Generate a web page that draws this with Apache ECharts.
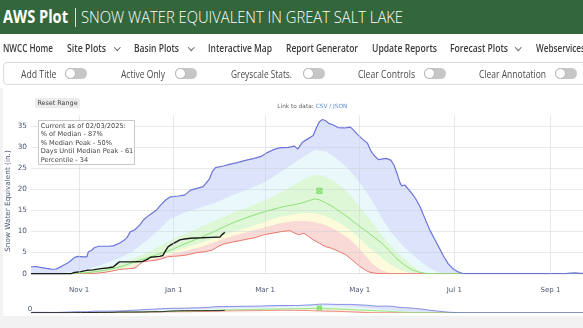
<!DOCTYPE html>
<html><head><meta charset="utf-8">
<script src="https://cdn.jsdelivr.net/npm/echarts@6/dist/echarts.min.js"></script>
<style>
html,body{margin:0;padding:0;width:583px;height:328px;overflow:hidden;background:#fff;font-family:"Open Sans",Lato,sans-serif;-webkit-font-smoothing:antialiased;}
#chart{position:absolute;left:0;top:0;width:583px;height:328px;}
.abs{position:absolute;white-space:nowrap;display:inline-block;}
</style></head><body>
<div id="chart"></div>
<div id="ui"></div>
<script>
// ---------- data (day index from Oct 1 = 0, SWE in inches) ----------
const tickDays = [31, 92, 151, 212, 273, 335];
const tickLabels = ['Nov 1', 'Jan 1', 'Mar 1', 'May 1', 'Jul 1', 'Sep 1'];
const yTicks = [0, 5, 10, 15, 20, 25, 30, 35];

const maxSWE = [[0,1.6],[3,1.7],[6,1.5],[9,1.3],[13,1.1],[16,1.05],[17,1.5],[20,1.8],[23,2.4],[25,2.9],[28,3.8],[30,4.1],[34,4.0],[36,4.0],[37,5.2],[39,5.5],[41,6.2],[44,6.5],[50,6.5],[53,6.6],[57,7.2],[60,7.9],[62,8.6],[64,9.9],[67,10.4],[70,11.5],[73,12.9],[76,13.8],[81,15.1],[84,16.4],[87,17.5],[90,18.2],[95,18.4],[99,18.6],[101,19.2],[103,19.8],[107,20.2],[111,20.6],[113,21.5],[115,22.4],[117,24.2],[119,25.1],[124,25.5],[128,25.9],[133,26.3],[139,26.9],[144,27.3],[148,27.7],[152,28.6],[156,29.3],[160,29.8],[166,29.9],[170,30.2],[172,29.5],[175,31.1],[178,31.8],[182,32.7],[184,34.5],[186,36.0],[188,36.5],[190,36.2],[192,35.6],[195,35.2],[198,34.6],[202,34.5],[206,34.7],[208,34.0],[211,32.8],[214,31.8],[217,30.9],[219,29.2],[221,28.1],[224,27.0],[227,27.2],[229,27.3],[232,26.9],[234,25.8],[236,23.8],[238,21.5],[239,20.8],[241,21.0],[242,20.8],[245,19.3],[248,17.8],[251,15.8],[254,13.1],[257,10.5],[260,8.4],[263,6.3],[266,4.2],[269,2.4],[272,1.2],[275,0.5],[278,0.1],[280,0],[345,0],[348,0.15],[351,0.2],[354,0.1],[356,0.1]];
const p90SWE = [[0,0],[20,0.1],[28,0.5],[35,1.0],[45,2.0],[55,3.4],[61,4.4],[66,5.4],[75,8.0],[82,10.2],[90,13.0],[100,14.6],[109,15.6],[120,17.0],[130,18.6],[140,20.0],[152,21.9],[165,25.0],[175,27.5],[183,29.3],[190,29.0],[197,27.3],[204,25.0],[210,22.5],[216,19.5],[222,16.0],[226,13.3],[232,10.0],[238,7.3],[243,5.5],[248,3.9],[253,2.4],[258,1.2],[262,0.4],[265,0],[356,0]];
const p70SWE = [[0,0],[25,0.1],[35,0.5],[45,1.2],[55,2.2],[66,3.6],[75,5.0],[82,6.4],[92,8.2],[100,9.5],[109,11.0],[120,12.8],[130,14.4],[140,15.8],[152,17.5],[165,20.0],[175,22.2],[183,23.5],[190,23.0],[197,21.5],[204,19.4],[210,16.8],[216,14.0],[222,11.3],[226,9.2],[232,6.6],[238,4.4],[243,2.7],[247,1.6],[251,0.5],[255,0],[356,0]];
const medianSWE = [[0,0],[25,0],[30,0.1],[35,0.2],[40,0.4],[45,0.7],[50,1.0],[55,1.4],[60,1.9],[66,2.7],[72,3.4],[77,4.0],[82,4.6],[88,5.3],[92,5.9],[100,7.2],[109,8.5],[117,9.8],[125,11.2],[132,12.3],[140,13.4],[148,14.4],[155,15.1],[162,15.8],[168,16.2],[172,16.5],[176,16.9],[180,17.4],[183,17.7],[186,17.5],[190,16.8],[195,15.8],[200,14.5],[205,13.2],[210,11.7],[215,10.4],[220,9.0],[226,7.3],[231,5.5],[236,3.5],[241,2.0],[246,0.9],[250,0.4],[254,0.1],[258,0],[356,0]];
const p30SWE = [[0,0],[35,0],[42,0.2],[50,0.6],[60,1.3],[70,2.6],[80,3.9],[90,5.0],[100,6.2],[110,7.4],[120,8.6],[130,9.8],[140,11.0],[150,12.2],[160,13.4],[170,14.1],[177,14.4],[183,14.3],[190,13.6],[197,12.4],[204,10.8],[210,9.0],[215,7.2],[220,5.6],[226,3.8],[231,2.4],[236,1.3],[242,0.4],[248,0],[356,0]];
const p10SWE = [[0,0],[40,0],[50,0.3],[60,0.9],[70,2.4],[80,3.6],[90,4.6],[100,5.4],[110,6.4],[120,7.7],[130,8.9],[140,9.9],[150,10.9],[160,11.9],[170,12.5],[177,12.5],[183,12.2],[190,11.5],[197,10.2],[204,8.6],[210,6.6],[215,4.6],[220,2.4],[226,0.8],[232,0.1],[236,0],[356,0]];
const minSWE = [[0,0],[38,0],[42,0.1],[47,0.3],[52,0.6],[57,1.0],[63,1.2],[67,1.3],[70,2.2],[72,2.8],[76,3.0],[81,3.2],[85,3.6],[88,4.0],[95,4.2],[100,4.4],[107,5.0],[112,5.2],[117,5.6],[120,6.3],[124,7.0],[130,7.5],[137,8.0],[144,8.5],[150,9.2],[156,9.6],[162,10.0],[167,10.2],[170,9.6],[173,9.2],[176,9.6],[179,8.8],[182,8.0],[186,7.2],[190,6.4],[194,6.0],[199,5.2],[203,4.5],[206,3.6],[209,2.7],[212,1.7],[215,1.0],[218,0.4],[222,0.1],[225,0],[356,0]];
const currentSWE = [[0,0],[26,0],[28,0.3],[32,0.5],[36,0.8],[40,0.9],[45,1.2],[50,1.4],[53,1.6],[55,2.2],[57,2.8],[65,2.8],[72,2.9],[75,3.4],[77,3.9],[83,4.1],[85,4.3],[87,5.6],[88.5,6.4],[91,7.0],[94,7.6],[96,8.0],[99,8.2],[103,8.4],[110,8.5],[116,8.6],[122,8.7],[123,9.2],[125,9.8]];
const medianPeak = [[186, 19.6]];

const statsLines = ['Current as of 02/03/2025:', '% of Median - 87%', '% Median Peak - 50%', 'Days Until Median Peak - 61', 'Percentile - 34'];

// ---------- chart ----------
const FONT = 'DejaVu Sans';
const TICK = '#4a5670';
const C = {
  blueFill:'#dde3fa', cyanFill:'#e9f9fb', greenFill:'#def7d7', yellowFill:'#fdfbdb', pinkFill:'#fadad6',
  maxLine:'#6b74d9', medLine:'#8ee078', minLine:'#e8776d', cur:'#1b1b1b', peak:'#72d955'
};
function areaS(data, color, i){
  return {type:'line', data, xAxisIndex:i, yAxisIndex:i, symbol:'none', showSymbol:false,
    lineStyle:{width:0, opacity:0}, areaStyle:{color, opacity:1}, z:2, silent:true, animation:false};
}
function lineS(data, color, w, i, extra){
  return Object.assign({type:'line', data, xAxisIndex:i, yAxisIndex:i, symbol:'none', showSymbol:false,
    lineStyle:{color, width:w}, z:4, silent:true, animation:false}, extra||{});
}
const series = [];
[0,1].forEach(i=>{
  const w = i===0 ? 1 : 0.8;
  series.push(areaS(maxSWE, C.blueFill, i));
  series.push(areaS(p90SWE, C.cyanFill, i));
  series.push(areaS(p70SWE, C.greenFill, i));
  series.push(areaS(p30SWE, C.yellowFill, i));
  series.push(areaS(p10SWE, C.pinkFill, i));
  series.push(areaS(minSWE, '#ffffff', i));
  const mark = i===0 ? {markLine:{silent:true, symbol:['none','none'], label:{show:false}, animation:false,
      lineStyle:{color:'rgba(205,210,220,0.5)', width:1, type:'solid'},
      data: tickDays.map(d=>({xAxis:d}))}} : {};
  series.push(lineS(minSWE, C.minLine, w, i, mark));
  series.push(lineS(medianSWE, C.medLine, w, i));
  series.push(lineS(maxSWE, C.maxLine, i===0?1.2:0.8, i));
  series.push(lineS(currentSWE, C.cur, i===0?1.4:0.9, i));
  series.push({type:'scatter', data:medianPeak, xAxisIndex:i, yAxisIndex:i, z:5, silent:true, animation:false,
    symbol:'path://M0,0 L10,10 M10,0 L0,10 M0,0 L10,0 L10,10 L0,10 Z', symbolSize: i===0?5:4,
    itemStyle:{color:'rgba(0,0,0,0)', borderColor:C.peak, borderWidth:1.2}});
});

const TXT = '#444';
const graphic = [
  {type:'text', x:8, y:201, rotation:Math.PI/2, silent:true,
   style:{text:'Snow Water Equivalent (in.)', fontFamily:FONT, fontSize:7.3, fill:TICK, align:'center', verticalAlign:'middle'}},
  {type:'text', x:30, y:309, silent:true,
   style:{text:'0', fontFamily:FONT, fontSize:7, fill:TICK, align:'center', verticalAlign:'middle'}},
  {type:'rect', shape:{x:35, y:98, width:45, height:10, r:2}, style:{fill:'#ececec'}, silent:true, z:10},
  {type:'text', x:57.5, y:103.2, silent:true, z:11,
   style:{text:'Reset Range', fontFamily:FONT, fontSize:6.4, fill:TXT, align:'center', verticalAlign:'middle'}},
  {type:'text', x:277.3, y:106, silent:true, z:11,
   style:{text:'Link to data: ', fontFamily:FONT, fontSize:5.8, fill:'#666', align:'left', verticalAlign:'middle'}},
  {type:'text', x:315.7, y:106, silent:true, z:11,
   style:{text:'CSV / JSON', fontFamily:FONT, fontSize:5.8, fill:'#5b8bd6', align:'left', verticalAlign:'middle'}},
  {type:'rect', shape:{x:38.5, y:120.5, width:96, height:44}, style:{fill:'#fff', stroke:'#c8c8c8', lineWidth:1}, silent:true, z:10}
];
statsLines.forEach((l,k)=>{
  graphic.push({type:'text', x:40.7, y:126 + k*8.5, silent:true, z:11,
    style:{text:l, fontFamily:FONT, fontSize:6.6, fill:TXT, align:'left', verticalAlign:'middle'}});
});

const chart = echarts.init(document.getElementById('chart'), null, {renderer:'canvas'});
chart.setOption({
  backgroundColor:'#ffffff',
  animation:false,
  grid:[
    {left:31, right:0, top:115.3, bottom:54.3, containLabel:false},
    {left:31, right:0, top:303.7, bottom:15.3, containLabel:false}
  ],
  xAxis:[
    {type:'value', gridIndex:0, min:0, max:356, axisLine:{show:false}, axisTick:{show:false}, splitLine:{show:false},
     axisLabel:{customValues:tickDays, formatter:v=>{const k=tickDays.indexOf(v);return k>=0?tickLabels[k]:'';},
       fontFamily:FONT, fontSize:7, color:TICK, margin:13}},
    {type:'value', gridIndex:1, min:0, max:356, show:false}
  ],
  yAxis:[
    {type:'value', gridIndex:0, min:0, max:37.5, interval:5, z:3,
     axisLine:{show:false}, axisTick:{show:false},
     splitLine:{show:true, showMaxLine:false, lineStyle:{color:'rgba(200,206,216,0.45)', width:1}},
     axisLabel:{showMaxLabel:false, fontFamily:FONT, fontSize:7.3, color:TICK, margin:4,
       formatter:v=> yTicks.indexOf(v)>=0 ? String(v) : ''}},
    {type:'value', gridIndex:1, min:0, max:37.5, show:false}
  ],
  graphic,
  series
});

// ---------- page chrome ----------
const ui = document.getElementById('ui');
function box(css){ const d=document.createElement('div'); d.style.cssText='position:absolute;'+css; ui.appendChild(d); return d; }
function txt(t, x, cy, w, css, lh){
  lh = lh||14;
  const s=document.createElement('span'); s.className='abs'; s.textContent=t;
  s.style.cssText += 'left:'+x+'px;top:'+(cy-lh/2)+'px;line-height:'+lh+'px;height:'+lh+'px;'+css;
  ui.appendChild(s);
  if(w){ const r=s.getBoundingClientRect().width; if(r>0){ s.style.transformOrigin='left center'; s.style.transform='scaleX('+(w/r)+')'; } }
  return s;
}
// left gutter and bottom strip
box('left:0;top:88px;width:3px;height:240px;background:#f3f3f3;');
box('left:0;top:316px;width:583px;height:12px;background:#f2f2f2;');
// header
box('left:0;top:0;width:583px;height:34px;background:#33673b;');
txt('AWS Plot', 3, 17, 65, 'color:#fff;font-weight:700;font-size:17px;font-family:"Open Sans",sans-serif;', 20);
box('left:75px;top:8px;width:1px;height:19px;background:#d8e4d9;');
txt('SNOW WATER EQUIVALENT IN GREAT SALT LAKE', 81, 17, 322, 'color:#fff;font-weight:300;font-size:16px;font-family:"Open Sans",sans-serif;', 20);
// nav
const nav = [['NWCC Home',3,50,0],['Site Plots',67,39,114],['Basin Plots',134,45,188],['Interactive Map',208,64,0],
  ['Report Generator',286,72,0],['Update Reports',372,65,0],['Forecast Plots',450,58,515],['Webservices',536,49,0]];
nav.forEach(n=>{
  txt(n[0], n[1], 48, n[2], 'color:#3a3a3a;font-weight:600;font-size:10px;font-family:"Open Sans",sans-serif;');
  if(n[3]) box('left:'+(n[3]+1)+'px;top:45px;width:3.5px;height:3.5px;border-right:1px solid #666;border-bottom:1px solid #666;transform:rotate(45deg);');
});
// toggle bar
box('left:3px;top:62px;width:600px;height:23px;border:1px solid #dcdcdc;border-radius:4px;box-sizing:border-box;background:#fff;');
const tg = [['Add Title',20.5,35.5,65],['Active Only',121,44,175],['Greyscale Stats.',231,61,303],['Clear Controls',358,57,424],['Clear Annotation',479,67,555]];
tg.forEach(t=>{
  txt(t[0], t[1], 73.5, t[2], 'color:#4a4a4a;font-size:10px;font-family:"Open Sans",sans-serif;');
  box('left:'+t[3]+'px;top:68px;width:22px;height:11px;border-radius:6px;background:#c6c6c6;');
  box('left:'+t[3]+'px;top:68px;width:11px;height:11px;border-radius:50%;background:#fff;border:1px solid #b5b5b5;box-sizing:border-box;');
});
</script>
</body></html>
